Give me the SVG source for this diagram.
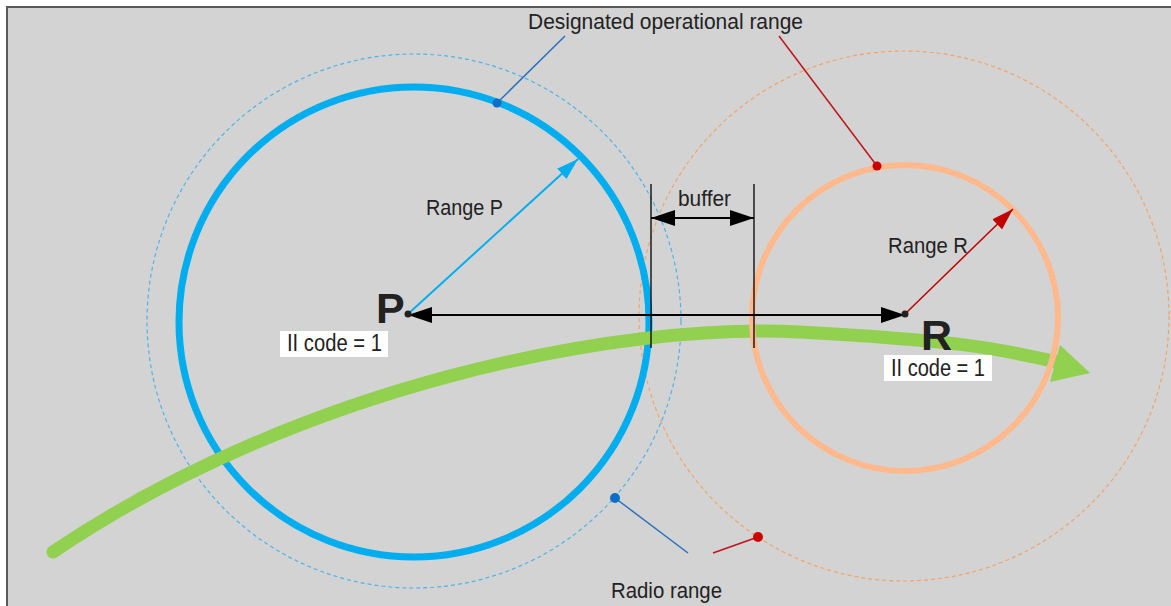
<svg xmlns="http://www.w3.org/2000/svg" width="1171" height="606" viewBox="0 0 1171 606">
  <style>
    .lbl { font-family: "Liberation Sans Narrow", "Liberation Sans", Arial, sans-serif; fill: #222; font-stretch: condensed; }
    .big { font-family: "Liberation Sans Narrow", "Liberation Sans", Arial, sans-serif; font-weight: bold; fill: #222; font-size: 43px; }
    .tag { fill: #ffffff; }
    .blk { stroke: #000; stroke-width: 2; fill: none; }
  </style>
  <defs>
    <marker id="ah-black" markerUnits="userSpaceOnUse" markerWidth="24" markerHeight="16" refX="24" refY="8" orient="auto-start-reverse" viewBox="0 0 24 16">
      <path d="M0,0 L24,8 L0,16 Z" fill="#000"/>
    </marker>
    <marker id="ah-blue" markerUnits="userSpaceOnUse" markerWidth="22" markerHeight="14" refX="22" refY="7" orient="auto" viewBox="0 0 22 14">
      <path d="M0,0 L22,7 L0,14 Z" fill="#00aeef"/>
    </marker>
    <marker id="ah-red" markerUnits="userSpaceOnUse" markerWidth="22" markerHeight="14" refX="22" refY="7" orient="auto" viewBox="0 0 22 14">
      <path d="M0,0 L22,7 L0,14 Z" fill="#c00000"/>
    </marker>
  </defs>

  <!-- canvas -->
  <rect x="0" y="0" width="1171" height="606" fill="#ffffff"/>
  <rect x="7" y="7" width="1170" height="605" fill="#d3d3d3" stroke="#595959" stroke-width="2"/>

  <!-- radio ranges -->
  <g id="radio-P">
    <circle cx="414" cy="321" r="267" fill="none" stroke="#4db4ec" stroke-width="1.2" stroke-dasharray="4 3"/>
  </g>
  <g id="radio-R">
    <circle cx="904" cy="316" r="265" fill="none" stroke="#f5a366" stroke-width="1.2" stroke-dasharray="4 3"/>
  </g>

  <!-- designated operational ranges -->
  <g id="range-P">
    <circle cx="414" cy="322" r="235" fill="none" stroke="#00aeef" stroke-width="7"/>
  </g>

  <!-- route -->
  <g id="route">
    <path d="M53,552 C300,385 620,322 800,332 S1000,350 1058,362" fill="none" stroke="#92d050" stroke-width="13" stroke-linecap="round"/>
    <polygon points="1060,345 1090,373 1050,382" fill="#92d050"/>
  </g>

  <g id="range-R">
    <circle cx="905" cy="318" r="153" fill="none" stroke="#ffb98c" stroke-width="6"/>
  </g>

  <g id="connectors">
    <!-- range radii -->
    <line x1="408" y1="314" x2="578" y2="159" stroke="#00aeef" stroke-width="2" marker-end="url(#ah-blue)"/>
    <line x1="905" y1="314" x2="1013" y2="209" stroke="#c00000" stroke-width="1.5" marker-end="url(#ah-red)"/>
    <!-- distance P to R -->
    <line class="blk" x1="408" y1="315" x2="905" y2="315" marker-start="url(#ah-black)" marker-end="url(#ah-black)"/>
    <!-- buffer -->
    <line x1="651" y1="184" x2="651" y2="348" stroke="#000" stroke-width="1.3"/>
    <line x1="754" y1="184" x2="754" y2="348" stroke="#000" stroke-width="1.3"/>
    <line class="blk" x1="651" y1="218" x2="754" y2="218" marker-start="url(#ah-black)" marker-end="url(#ah-black)"/>
    <!-- callouts -->
    <line x1="497" y1="103" x2="565" y2="36" stroke="#2a70c0" stroke-width="1.5"/>
    <circle cx="497" cy="103" r="4.5" fill="#0b6fc7"/>
    <line x1="877" y1="166" x2="779" y2="36" stroke="#c0141c" stroke-width="1.5"/>
    <circle cx="877" cy="166" r="4.5" fill="#cc0000"/>
    <line x1="615" y1="498" x2="688" y2="553" stroke="#2a70c0" stroke-width="1.5"/>
    <circle cx="615" cy="498" r="5" fill="#0b6fc7"/>
    <line x1="758" y1="537" x2="713" y2="553" stroke="#c0141c" stroke-width="1.5"/>
    <circle cx="758" cy="537" r="5" fill="#cc0000"/>
  </g>

  <g id="node-P">
    <circle cx="408" cy="314" r="3.5" fill="#222"/>
    <text class="big" x="376" y="323">P</text>
    <rect class="tag" x="280" y="331" width="108" height="26"/>
    <text class="lbl" x="287" y="351" font-size="23" textLength="95" lengthAdjust="spacingAndGlyphs">II code = 1</text>
  </g>

  <g id="node-R">
    <circle cx="905" cy="314" r="3.5" fill="#222"/>
    <text class="big" x="921" y="350">R</text>
    <rect class="tag" x="884" y="355" width="108" height="26"/>
    <text class="lbl" x="891" y="376" font-size="23" textLength="94" lengthAdjust="spacingAndGlyphs">II code = 1</text>
  </g>

  <g id="labels">
    <text class="lbl" x="528" y="29" font-size="22" textLength="275" lengthAdjust="spacingAndGlyphs">Designated operational range</text>
    <text class="lbl" x="426" y="215" font-size="22" textLength="77" lengthAdjust="spacingAndGlyphs">Range P</text>
    <text class="lbl" x="888" y="253" font-size="22" textLength="80" lengthAdjust="spacingAndGlyphs">Range R</text>
    <text class="lbl" x="678" y="206" font-size="22" textLength="53" lengthAdjust="spacingAndGlyphs">buffer</text>
    <text class="lbl" x="611" y="598" font-size="22" textLength="111" lengthAdjust="spacingAndGlyphs">Radio range</text>
  </g>
</svg>
